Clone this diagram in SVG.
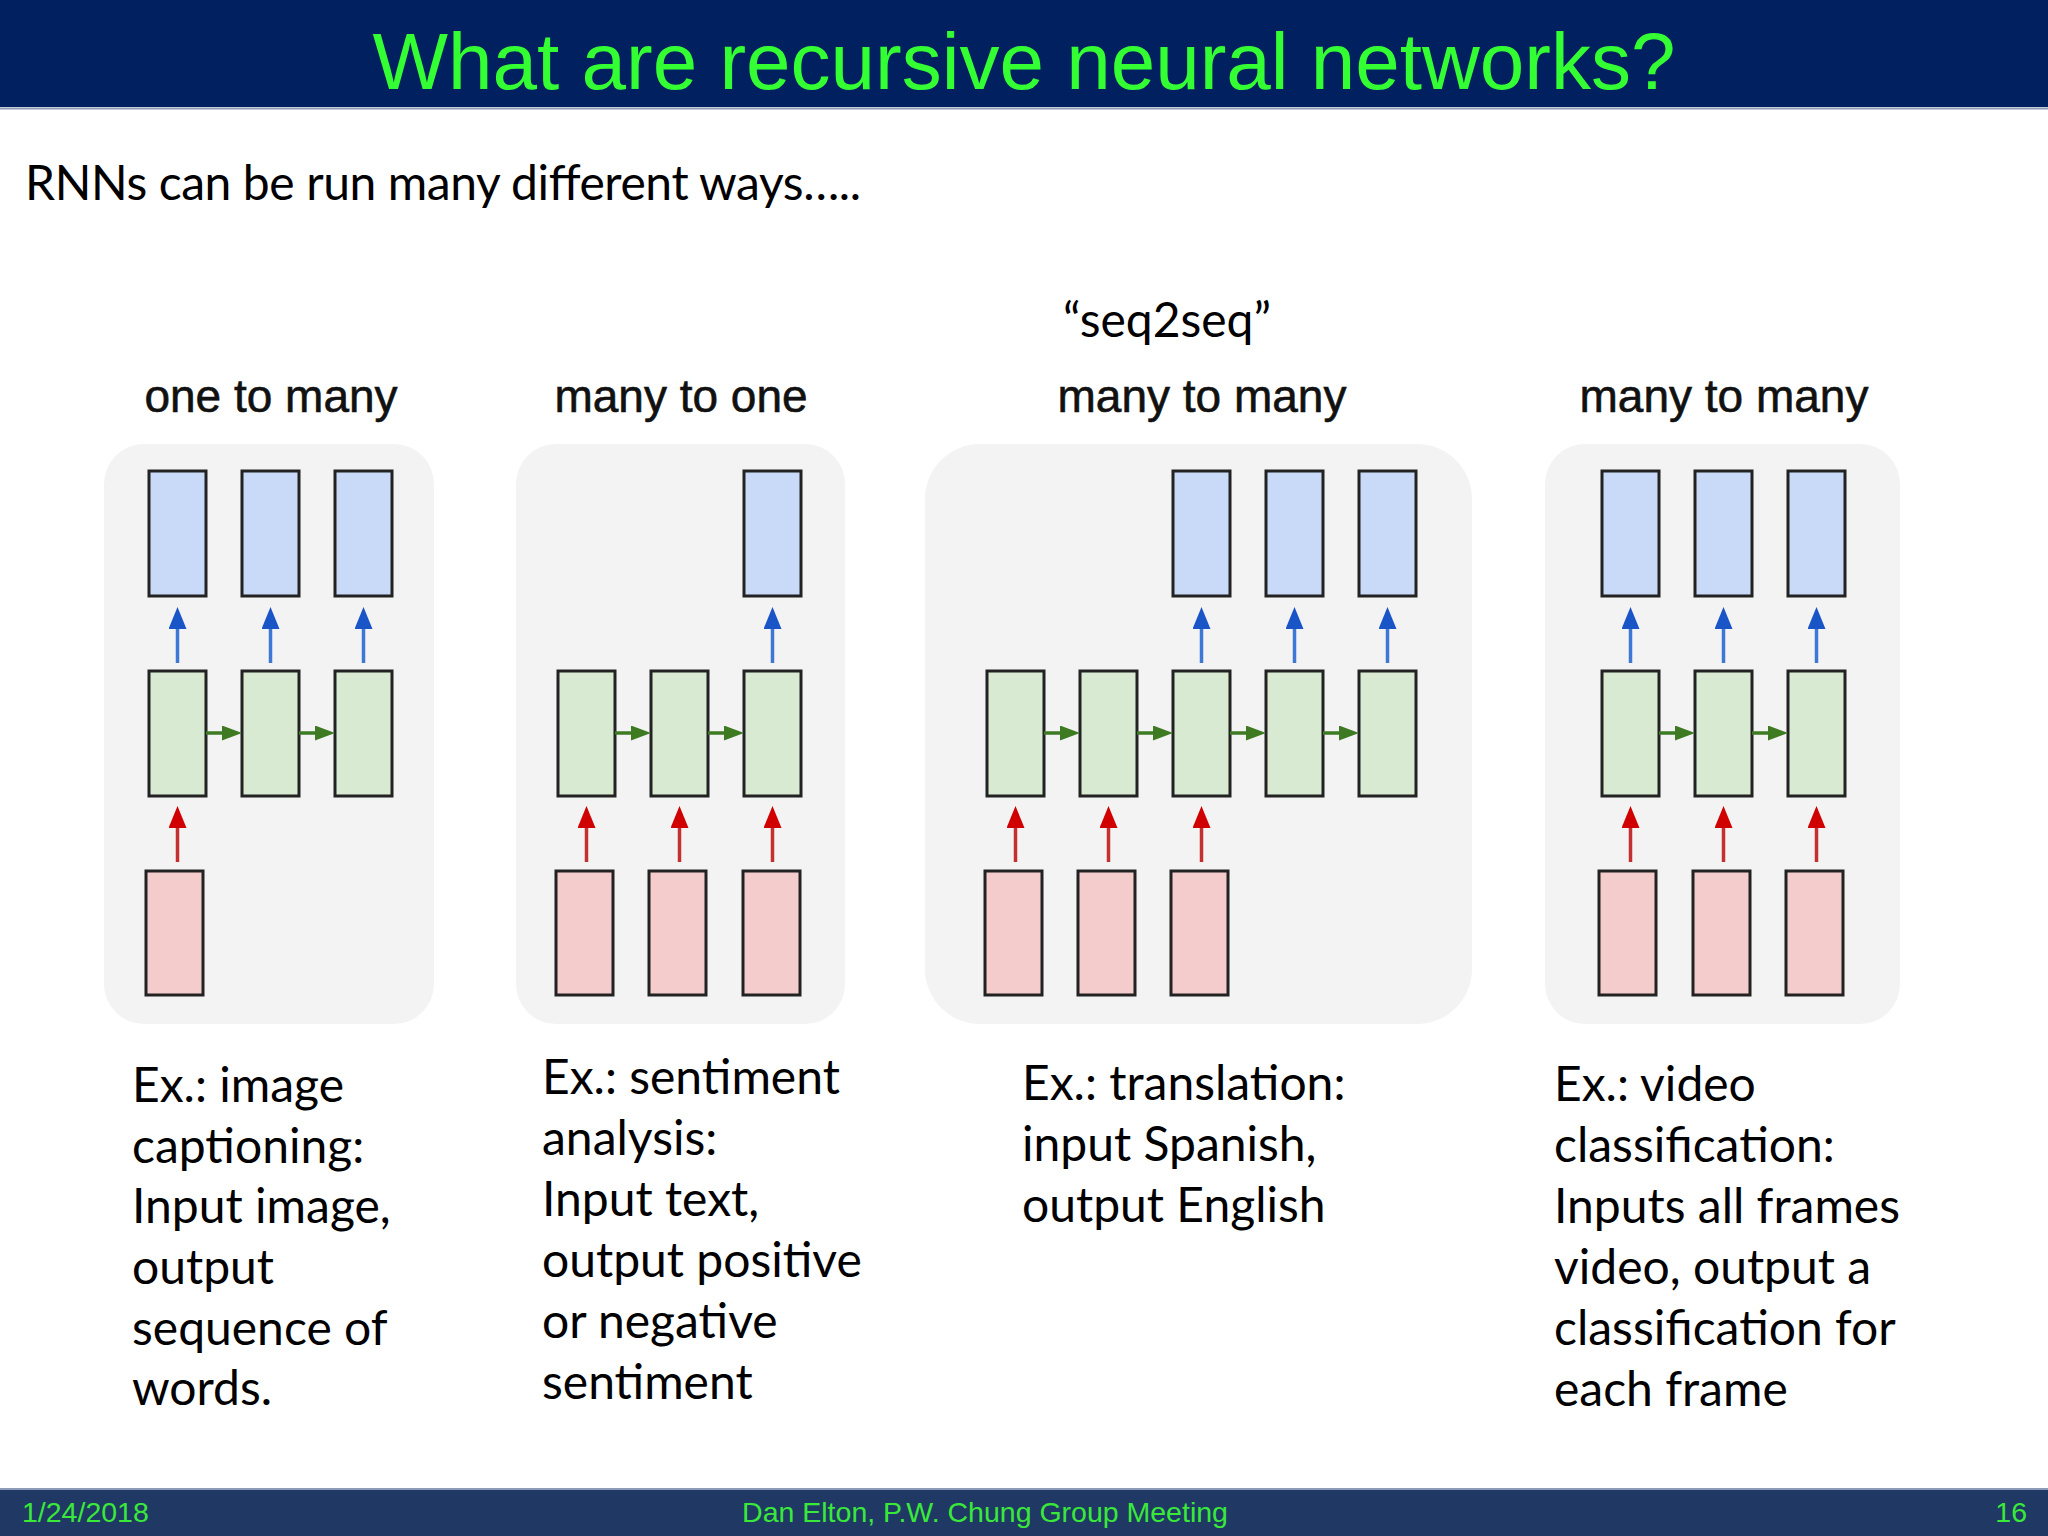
<svg xmlns="http://www.w3.org/2000/svg" width="2048" height="1536" viewBox="0 0 2048 1536">
<defs>
<style>
.panel{fill:#f3f3f4;}
.box{stroke:#222;stroke-width:3;}
.out{fill:#c9daf8;}
.hid{fill:#d9ead3;}
.inp{fill:#f4cccc;}
.ab{stroke:#3f78d4;stroke-width:3.5;fill:none;marker-end:url(#hb);}
.ar{stroke:#c43030;stroke-width:3.5;fill:none;marker-end:url(#hr);}
.ag{stroke:#3d7a22;stroke-width:3.5;fill:none;marker-end:url(#hg);}
.lab{font-family:"Liberation Sans",Arial,sans-serif;font-size:46px;fill:#111;stroke:#111;stroke-width:0.6;text-anchor:middle;}
.body{font-family:Lato,"Open Sans",sans-serif;font-size:48px;fill:#000;}
.foot{font-family:"Liberation Sans",Arial,sans-serif;font-size:28.5px;fill:#3ae83a;}
</style>
<marker id="hb" markerWidth="22" markerHeight="18" refX="2" refY="9" orient="auto" markerUnits="userSpaceOnUse"><path d="M0,0 L22,9 L0,18 z" fill="#1a55c8"/></marker>
<marker id="hr" markerWidth="22" markerHeight="18" refX="2" refY="9" orient="auto" markerUnits="userSpaceOnUse"><path d="M0,0 L22,9 L0,18 z" fill="#d00000"/></marker>
<marker id="hg" markerWidth="20" markerHeight="15" refX="2" refY="7.5" orient="auto" markerUnits="userSpaceOnUse"><path d="M0,0 L20,7.5 L0,15 z" fill="#3d7a22"/></marker>
</defs>
<rect x="0" y="0" width="2048" height="1536" fill="#ffffff"/>
<g id="header">
<rect x="0" y="0" width="2048" height="107" fill="#002060"/>
<line x1="0" y1="108.5" x2="2048" y2="108.5" stroke="#8d9bb8" stroke-width="2"/>
<text x="1024" y="89" font-family="'Liberation Sans',Arial,sans-serif" font-size="80" fill="#33ff33" text-anchor="middle">What are recursive neural networks?</text>
</g>
<text x="25" y="200" class="body" font-size="47" textLength="836">RNNs can be run many different ways…..</text>
<text x="1167" y="337" class="body" text-anchor="middle">“seq2seq”</text>

<g id="panel1">
<rect class="panel" x="104" y="444" width="330" height="580" rx="40"/>
<text class="lab" x="271" y="412">one to many</text>
</g>
<g id="panel2">
<rect class="panel" x="516" y="444" width="329" height="580" rx="40"/>
<text class="lab" x="681" y="412">many to one</text>
</g>
<g id="panel3">
<rect class="panel" x="925" y="444" width="547" height="580" rx="55"/>
<text class="lab" x="1202" y="412">many to many</text>
</g>
<g id="panel4">
<rect class="panel" x="1545" y="444" width="355" height="580" rx="40"/>
<text class="lab" x="1724" y="412">many to many</text>
</g>

<g id="p1-out1"><rect class="box out" x="149" y="471" width="57" height="125"/></g>
<g id="p1-out2"><rect class="box out" x="242" y="471" width="57" height="125"/></g>
<g id="p1-out3"><rect class="box out" x="335" y="471" width="57" height="125"/></g>
<g id="p1-hid1"><rect class="box hid" x="149" y="671" width="57" height="125"/></g>
<g id="p1-hid2"><rect class="box hid" x="242" y="671" width="57" height="125"/></g>
<g id="p1-hid3"><rect class="box hid" x="335" y="671" width="57" height="125"/></g>
<g id="p1-in1"><rect class="box inp" x="146" y="871" width="57" height="124"/></g>

<g id="p2-out3"><rect class="box out" x="744" y="471" width="57" height="125"/></g>
<g id="p2-hid1"><rect class="box hid" x="558" y="671" width="57" height="125"/></g>
<g id="p2-hid2"><rect class="box hid" x="651" y="671" width="57" height="125"/></g>
<g id="p2-hid3"><rect class="box hid" x="744" y="671" width="57" height="125"/></g>
<g id="p2-in1"><rect class="box inp" x="556" y="871" width="57" height="124"/></g>
<g id="p2-in2"><rect class="box inp" x="649" y="871" width="57" height="124"/></g>
<g id="p2-in3"><rect class="box inp" x="743" y="871" width="57" height="124"/></g>

<g id="p3-out3"><rect class="box out" x="1173" y="471" width="57" height="125"/></g>
<g id="p3-out4"><rect class="box out" x="1266" y="471" width="57" height="125"/></g>
<g id="p3-out5"><rect class="box out" x="1359" y="471" width="57" height="125"/></g>
<g id="p3-hid1"><rect class="box hid" x="987" y="671" width="57" height="125"/></g>
<g id="p3-hid2"><rect class="box hid" x="1080" y="671" width="57" height="125"/></g>
<g id="p3-hid3"><rect class="box hid" x="1173" y="671" width="57" height="125"/></g>
<g id="p3-hid4"><rect class="box hid" x="1266" y="671" width="57" height="125"/></g>
<g id="p3-hid5"><rect class="box hid" x="1359" y="671" width="57" height="125"/></g>
<g id="p3-in1"><rect class="box inp" x="985" y="871" width="57" height="124"/></g>
<g id="p3-in2"><rect class="box inp" x="1078" y="871" width="57" height="124"/></g>
<g id="p3-in3"><rect class="box inp" x="1171" y="871" width="57" height="124"/></g>

<g id="p4-out1"><rect class="box out" x="1602" y="471" width="57" height="125"/></g>
<g id="p4-out2"><rect class="box out" x="1695" y="471" width="57" height="125"/></g>
<g id="p4-out3"><rect class="box out" x="1788" y="471" width="57" height="125"/></g>
<g id="p4-hid1"><rect class="box hid" x="1602" y="671" width="57" height="125"/></g>
<g id="p4-hid2"><rect class="box hid" x="1695" y="671" width="57" height="125"/></g>
<g id="p4-hid3"><rect class="box hid" x="1788" y="671" width="57" height="125"/></g>
<g id="p4-in1"><rect class="box inp" x="1599" y="871" width="57" height="124"/></g>
<g id="p4-in2"><rect class="box inp" x="1693" y="871" width="57" height="124"/></g>
<g id="p4-in3"><rect class="box inp" x="1786" y="871" width="57" height="124"/></g>

<g id="connectors">
<line class="ab" x1="177.5" y1="663" x2="177.5" y2="627"/>
<line class="ab" x1="270.5" y1="663" x2="270.5" y2="627"/>
<line class="ab" x1="363.5" y1="663" x2="363.5" y2="627"/>
<line class="ar" x1="177.5" y1="862" x2="177.5" y2="826"/>
<line class="ag" x1="206" y1="733" x2="224" y2="733"/>
<line class="ag" x1="299" y1="733" x2="317" y2="733"/>

<line class="ab" x1="772.5" y1="663" x2="772.5" y2="627"/>
<line class="ar" x1="586.5" y1="862" x2="586.5" y2="826"/>
<line class="ar" x1="679.5" y1="862" x2="679.5" y2="826"/>
<line class="ar" x1="772.5" y1="862" x2="772.5" y2="826"/>
<line class="ag" x1="615" y1="733" x2="633" y2="733"/>
<line class="ag" x1="708" y1="733" x2="726" y2="733"/>

<line class="ab" x1="1201.5" y1="663" x2="1201.5" y2="627"/>
<line class="ab" x1="1294.5" y1="663" x2="1294.5" y2="627"/>
<line class="ab" x1="1387.5" y1="663" x2="1387.5" y2="627"/>
<line class="ar" x1="1015.5" y1="862" x2="1015.5" y2="826"/>
<line class="ar" x1="1108.5" y1="862" x2="1108.5" y2="826"/>
<line class="ar" x1="1201.5" y1="862" x2="1201.5" y2="826"/>
<line class="ag" x1="1044" y1="733" x2="1062" y2="733"/>
<line class="ag" x1="1137" y1="733" x2="1155" y2="733"/>
<line class="ag" x1="1230" y1="733" x2="1248" y2="733"/>
<line class="ag" x1="1323" y1="733" x2="1341" y2="733"/>

<line class="ab" x1="1630.5" y1="663" x2="1630.5" y2="627"/>
<line class="ab" x1="1723.5" y1="663" x2="1723.5" y2="627"/>
<line class="ab" x1="1816.5" y1="663" x2="1816.5" y2="627"/>
<line class="ar" x1="1630.5" y1="862" x2="1630.5" y2="826"/>
<line class="ar" x1="1723.5" y1="862" x2="1723.5" y2="826"/>
<line class="ar" x1="1816.5" y1="862" x2="1816.5" y2="826"/>
<line class="ag" x1="1659" y1="733" x2="1677" y2="733"/>
<line class="ag" x1="1752" y1="733" x2="1770" y2="733"/>
</g>

<g id="text1" class="body">
<text x="132" y="1102">Ex.: image</text>
<text x="132" y="1163">captioning:</text>
<text x="132" y="1223">Input image,</text>
<text x="132" y="1284">output</text>
<text x="132" y="1345">sequence of</text>
<text x="132" y="1405">words.</text>
</g>
<g id="text2" class="body">
<text x="542" y="1094">Ex.: sentiment</text>
<text x="542" y="1155">analysis:</text>
<text x="542" y="1216">Input text,</text>
<text x="542" y="1277">output positive</text>
<text x="542" y="1338">or negative</text>
<text x="542" y="1399">sentiment</text>
</g>
<g id="text3" class="body">
<text x="1022" y="1100">Ex.: translation:</text>
<text x="1022" y="1161">input Spanish,</text>
<text x="1022" y="1222">output English</text>
</g>
<g id="text4" class="body">
<text x="1554" y="1101">Ex.: video</text>
<text x="1554" y="1162">classification:</text>
<text x="1554" y="1223">Inputs all frames</text>
<text x="1554" y="1284">video, output a</text>
<text x="1554" y="1345">classification for</text>
<text x="1554" y="1406">each frame</text>
</g>

<g id="footer">
<rect x="0" y="1489" width="2048" height="47" fill="#1f3864"/>
<line x1="0" y1="1489" x2="2048" y2="1489" stroke="#8d9bb8" stroke-width="2"/>
<text class="foot" x="22" y="1522">1/24/2018</text>
<text class="foot" x="985" y="1522" text-anchor="middle">Dan Elton, P.W. Chung Group Meeting</text>
<text class="foot" x="2027" y="1522" text-anchor="end">16</text>
</g>
</svg>
